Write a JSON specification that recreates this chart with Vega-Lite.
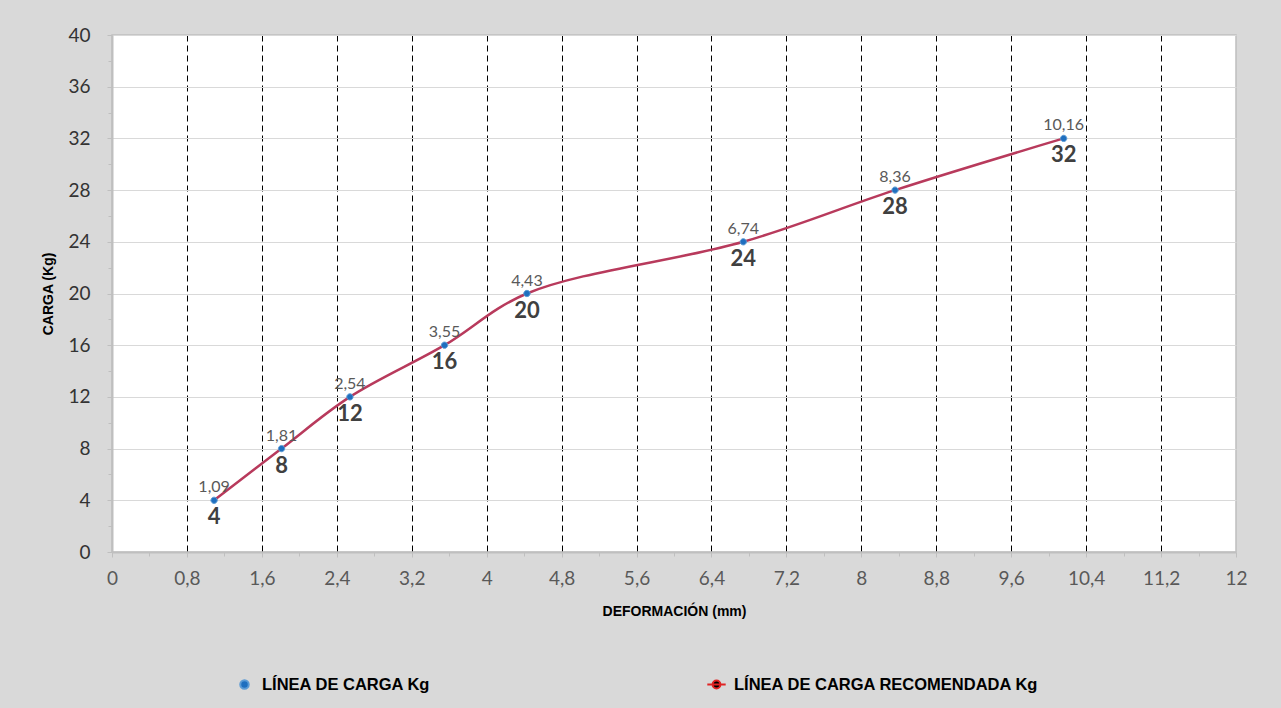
{
  "$schema": "https://vega.github.io/schema/vega-lite/v6.json",
  "width": 1124,
  "height": 517,
  "autosize": {"type": "none"},
  "padding": {"left": 112, "top": 35, "right": 45, "bottom": 156},
  "background": "#d9d9d9",
  "config": {
    "locale": {"number": {"decimal": ",", "thousands": ".", "grouping": [3], "currency": ["", " €"]}},
    "view": {"fill": "white", "stroke": "#bfbfbf", "strokeWidth": 1.5},
    "font": "Lato",
    "legend": {
      "orient": "none", "legendX": 124, "legendY": 641, "direction": "horizontal", "title": null,
      "labelFont": "Liberation Sans", "labelFontWeight": "bold", "labelFontSize": 16.5, "labelColor": "#000000", "labelLimit": 0,
      "symbolSize": 200, "columnPadding": 272, "labelOffset": 9, "symbolStrokeWidth": 2
    }
  },
  "data": {
    "values": [
      {"deformacion": 1.09, "carga": 4, "serie": "LÍNEA DE CARGA Kg"},
      {"deformacion": 1.81, "carga": 8, "serie": "LÍNEA DE CARGA Kg"},
      {"deformacion": 2.54, "carga": 12, "serie": "LÍNEA DE CARGA Kg"},
      {"deformacion": 3.55, "carga": 16, "serie": "LÍNEA DE CARGA Kg"},
      {"deformacion": 4.43, "carga": 20, "serie": "LÍNEA DE CARGA Kg"},
      {"deformacion": 6.74, "carga": 24, "serie": "LÍNEA DE CARGA Kg"},
      {"deformacion": 8.36, "carga": 28, "serie": "LÍNEA DE CARGA Kg"},
      {"deformacion": 10.16, "carga": 32, "serie": "LÍNEA DE CARGA Kg"}
    ]
  },
  "layer": [
    {
      "mark": {"type": "line", "interpolate": "catmull-rom", "color": "#b83a5c", "strokeWidth": 2.5},
      "encoding": {
        "x": {
          "field": "deformacion", "type": "quantitative",
          "scale": {"domain": [0, 12], "nice": false, "zero": true},
          "axis": {
            "title": "DEFORMACIÓN (mm)",
            "values": [0, 0.8, 1.6, 2.4, 3.2, 4, 4.8, 5.6, 6.4, 7.2, 8, 8.8, 9.6, 10.4, 11.2, 12],
            "format": ".1~f",
            "labelFlush": false,
            "labelOverlap": false,
            "grid": true,
            "gridColor": {"condition": {"test": "datum.value == 0 || datum.value == 12", "value": "transparent"}, "value": "#000000"},
            "gridDash": [6, 4],
            "gridWidth": 1,
            "domainColor": "#bfbfbf",
            "domainWidth": 2,
            "tickColor": "#bfbfbf",
            "tickSize": 5,
            "labelFontSize": 19,
            "labelColor": "#595959",
            "labelPadding": 12,
            "titleFont": "Liberation Sans",
            "titleFontWeight": "bold",
            "titleFontSize": 14,
            "titleColor": "#000000",
            "titlePadding": 16
          }
        },
        "y": {
          "field": "carga", "type": "quantitative",
          "scale": {"domain": [0, 40], "nice": false},
          "axis": {
            "title": "CARGA (Kg)",
            "values": [0, 4, 8, 12, 16, 20, 24, 28, 32, 36, 40],
            "labelFlush": false,
            "grid": true,
            "gridColor": "#d9d9d9",
            "gridWidth": 1.2,
            "domainColor": "#bfbfbf",
            "domainWidth": 2,
            "tickColor": "#bfbfbf",
            "tickSize": 5,
            "labelFontSize": 19,
            "labelColor": "#333333",
            "labelPadding": 17,
            "titleFont": "Liberation Sans",
            "titleFontWeight": "bold",
            "titleFontSize": 14,
            "titleColor": "#000000",
            "titlePadding": 12
          }
        }
      }
    },
    {
      "mark": {"type": "point", "filled": true, "size": 110, "opacity": 1, "strokeWidth": 1},
      "encoding": {
        "x": {
          "field": "deformacion", "type": "quantitative",
          "axis": {"values": [0.4, 1.2, 2, 2.8, 3.6, 4.4, 5.2, 6, 6.8, 7.6, 8.4, 9.2, 10, 10.8, 11.6], "labels": false, "grid": false, "domain": false, "ticks": true, "tickColor": "#bfbfbf", "tickSize": 4, "title": null, "orient": "bottom"}
        },
        "y": {
          "field": "carga", "type": "quantitative",
          "axis": {"values": [2, 6, 10, 14, 18, 22, 26, 30, 34, 38], "labels": false, "grid": false, "domain": false, "ticks": true, "tickColor": "#bfbfbf", "tickSize": 4, "title": null, "orient": "left"}
        },
        "color": {
          "field": "serie", "type": "nominal",
          "scale": {"domain": ["LÍNEA DE CARGA Kg", "LÍNEA DE CARGA RECOMENDADA Kg"], "range": ["#1f6fbf", "#000000"]}
        },
        "stroke": {
          "field": "serie", "type": "nominal",
          "scale": {"domain": ["LÍNEA DE CARGA Kg", "LÍNEA DE CARGA RECOMENDADA Kg"], "range": ["#5b9bd5", "#e02424"]}
        },
        "shape": {
          "field": "serie", "type": "nominal",
          "scale": {"domain": ["LÍNEA DE CARGA Kg", "LÍNEA DE CARGA RECOMENDADA Kg"], "range": ["M-0.6,0A0.6,0.6,0,1,1,0.6,0A0.6,0.6,0,1,1,-0.6,0Z", "M-1.3,0H1.3M-0.55,0A0.55,0.55,0,1,1,0.55,0A0.55,0.55,0,1,1,-0.55,0Z"]}
        }
      }
    },
    {
      "mark": {"type": "text", "baseline": "bottom", "dy": -5, "fontSize": 16, "color": "#595959"},
      "encoding": {
        "x": {"field": "deformacion", "type": "quantitative", "axis": null},
        "y": {"field": "carga", "type": "quantitative", "axis": null},
        "text": {"field": "deformacion", "type": "quantitative", "format": ".2f"}
      }
    },
    {
      "mark": {"type": "text", "baseline": "top", "dy": 7, "fontSize": 22, "fontWeight": "bold", "color": "#404040"},
      "encoding": {
        "x": {"field": "deformacion", "type": "quantitative", "axis": null},
        "y": {"field": "carga", "type": "quantitative", "axis": null},
        "text": {"field": "carga", "type": "quantitative", "format": "d"}
      }
    }
  ],
  "resolve": {"axis": {"x": "independent", "y": "independent"}}
}
